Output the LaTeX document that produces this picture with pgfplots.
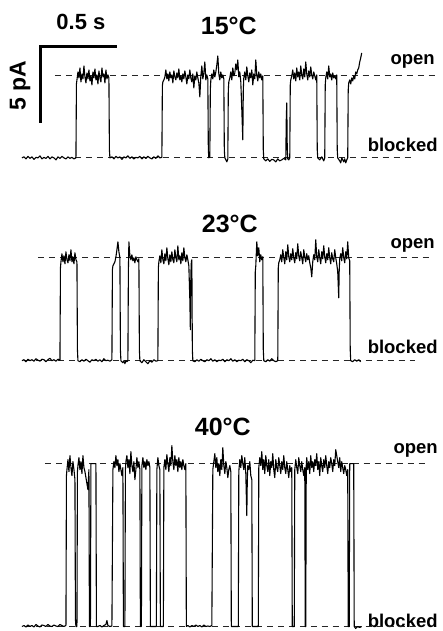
\documentclass[border=0pt]{standalone}
\usepackage{pgfplots}
\pgfplotsset{compat=1.18}
\usepackage{fontspec}
\setmainfont{Liberation Sans}
\newcommand{\fs}[1]{\fontsize{#1}{#1}\selectfont\bfseries}
\begin{document}
\begin{tikzpicture}
\begin{axis}[
    scale only axis, width=443pt, height=631pt,
    xmin=0, xmax=443, ymin=0, ymax=631, y dir=reverse,
    hide axis, clip=false, enlargelimits=false,
    trace/.style={black, line width=1.1pt, line join=round, mark=none},
    level/.style={black!85, line width=1pt, dash pattern=on 6pt off 5pt, mark=none},
]
\path (axis cs:0,0) rectangle (axis cs:443,631);

% scale bar
\addplot[black, line width=3pt, miter limit=2, mark=none] coordinates {(117,47) (41,47) (41,123)};
\node[anchor=base, font=\fs{22}] at (axis cs:81,30) {0.5 s};
\node[rotate=90, font=\fs{23}] at (axis cs:20,86) {5 pA};

% ---------------- 15 C ----------------
\node[anchor=base, font=\fs{25}] at (axis cs:229,35) {15°C};
\node[anchor=base, font=\fs{18.5}] at (axis cs:413,65) {open};
\node[anchor=base, font=\fs{18.5}] at (axis cs:403,152) {blocked};
\addplot[level] coordinates {(55,76) (435,76)};
\addplot[level] coordinates {(75,158) (415,158)};
\addplot[trace] coordinates {
(22,158)(24,157)(26,159)(28,156.5)(30,158.5)(32,157)(34,159.5)(36,157.5)(38,158)(40,156)(42,159)(44,157.5)(46,158.5)(48,156.5)(50,159)(52,157)(54,158)(56,160)(58,157)(60,158.5)(62,156.5)(64,158)(66,159)(68,157)(70,158.5)(72,157.5)(74,159)(76,158)
(76.5,84)(77,80)
(78,72)(79,78)(80,68)(81,82)(82,74)(83,79)(84,66)(85,77)(86,83)(87,73)(88,79)(89,70)(90,81)(91,76)(92,85)(93,72)(94,78)(95,69)(96,80)(97,75)(98,84)(99,71)(100,78)(101,82)(102,68)(103,77)(104,74)(105,83)(106,70)(107,79)(108,75)(109,78)
(109.5,150)(110,158)
(112,157)(114,159)(116,156.5)(118,158)(120,157)(122,159.5)(124,157)(126,158)(128,156)(130,158.5)(132,157)(134,159)(136,157.5)(138,158)(140,156.5)(142,159)(144,157)(146,158.5)(148,156.5)(150,158)(152,159)(154,157)(156,158.5)(158,156)(160,158)(162,157.5)
(162.5,86)(163,82)
(164,80)(165,77)(166,70)(167,79)(168,74)(169,81)(170,72)(171,78)(172,75)(173,83)(174,71)(175,77)(176,80)(177,73)(178,78)(179,69)(180,80)(181,76)(182,82)(183,74)(184,79)(185,71)(186,77)(187,84)(188,75)(189,79)(190,70)(191,78)(192,82)(193,74)(194,88)(195,76)(196,80)(197,72)(198,78)(199,83)(200,97)(201,76)(202,66)(203,79)(204,73)(205,62)(206,80)(207,75)(208,79)
(208.5,150)(209,158)(210,157)(210.5,90)(211,80)
(212,74)(213,79)(214,70)(215,77)(216,72)(217,65)(218,56)(219,74)(220,80)(221,72)(222,78)(223,75)(224,79)
(224.5,150)(225,158)(226,160)(227,162)(228,159)(228.5,90)(229,82)
(230,78)(231,72)(232,80)(233,68)(234,76)(235,73)(236,64)(237,70)(238,60)(239,77)(240,72)(241,82)(242,110)(243,140)(243.5,90)(244,78)(245,72)(246,80)(247,67)(248,76)(249,82)(250,73)(251,78)(252,70)(253,85)(254,74)(255,79)(256,60)(257,75)(258,81)(259,72)(260,78)(261,74)(262,80)(263,76)
(263.5,150)(264,159)
(266,161)(268,159)(270,161.5)(272,159.5)(274,160)(276,162)(278,159)(280,161)(282,160)(284,158.5)(286,160)(286.5,120)(287,103)(287.5,150)(288,159)(289,160)(290,158)
(290.5,85)(291,80)
(292,76)(293,70)(294,79)(295,73)(296,81)(297,68)(298,77)(299,72)(300,80)(301,66)(302,75)(303,79)(304,69)(305,77)(306,62)(307,74)(308,80)(309,71)(310,77)(311,67)(312,75)(313,79)(314,72)(315,76)(316,80)(317,75)
(317.5,150)(318,158)(320,160)(322,157)(324,161)(325,158)
(325.5,85)(326,78)
(327,72)(328,79)(329,66)(330,77)(331,74)(332,80)(333,73)(334,78)(335,76)(336,79)(337,75)
(337.5,150)(338,158)(340,161)(341,163)(342,158)(344,162)(345,159)(346,163)(347,160)(348,158)
(348.5,90)(349,83)(350,80)(351,84)(352,78)(353,81)(354,76)(355,79)(356,72)(357,74)(358,70)(359,68)(360,62)(361,58)(362,53)
};

% ---------------- 23 C ----------------
\node[anchor=base, font=\fs{25}] at (axis cs:230,233) {23°C};
\node[anchor=base, font=\fs{18.5}] at (axis cs:413,249) {open};
\node[anchor=base, font=\fs{18.5}] at (axis cs:403,354) {blocked};
\addplot[level] coordinates {(38,258) (430,258)};
\addplot[level] coordinates {(25,361) (415,361)};
\addplot[trace] coordinates {
(22,361)(24,360)(26,362)(28,359.5)(30,361)(32,360)(34,361.5)(36,359)(38,360.5)(40,361.5)(42,359.5)(44,360)(46,362)(48,360)(50,358.5)(52,361)(54,360)(56,361.5)(58,359.5)(60,360.5)
(60.5,268)(61,262)
(62,254)(63,262)(64,256)(65,264)(66,252)(67,260)(68,263)(69,255)(70,261)(71,250)(72,262)(73,257)(74,264)(75,253)(76,260)(77,262)
(77.5,350)(78,361)
(80,362)(82,360)(84,361.5)(86,359.5)(88,361)(90,362.5)(92,360)(94,361)(96,359.5)(98,361.5)(100,360)(102,362)(104,359)(106,361)(108,360.5)(110,361.5)(112,360)
(112.5,270)(113,266)(114,264)(115,262)(116,257)(117,250)(118,242)(119,252)(120,258)(120.5,350)(121,361)
(122,362)(123,363)(124,361)(125,364)(126,361)(127,362)(128,361)(128.5,270)(129,242)(130,256)(131,260)(132,255)(133,261)(134,258)(135,263)(136,257)(137,260)(138,262)(139,259)(139.5,350)(140,361)
(142,363)(144,360)(146,362)(148,364)(150,361)(152,362.5)(154,360)(156,361.5)(158,361)
(158.5,268)(159,262)
(160,256)(161,263)(162,250)(163,260)(164,264)(165,254)(166,261)(167,248)(168,259)(169,265)(170,255)(171,262)(172,252)(173,260)(174,263)(175,250)(176,258)(177,262)(178,246)(179,260)(180,256)(181,264)(182,253)(183,261)(184,248)(185,258)(186,262)(187,255)(188,260)(189,266)(190,300)(190.5,330)(191,275)(191.5,262)(192,260)
(192.5,350)(193,361)
(195,362)(197,360)(199,361.5)(201,359.5)(203,361)(205,362)(207,360)(209,361)(211,359)(213,361.5)(215,360)(217,362)(219,360.5)(221,361)(223,359.5)(225,362)(227,360)(229,361)(231,359)(233,361.5)(235,360)(237,362)(239,360.5)(241,361)(243,359.5)(245,362)(247,360)(249,361)(251,363)(253,360.5)(255,361)
(255.5,272)(256,266)(257,242)(258,256)(259,248)(260,262)(261,255)(262,260)(263,257)
(263.5,350)(264,361)
(266,362)(268,360)(270,361.5)(272,359)(274,361)(276,362)(278,361)
(278.5,268)(279,263)
(280,260)(281,255)(282,262)(283,250)(284,258)(285,264)(286,252)(287,260)(288,245)(289,257)(290,262)(291,254)(292,260)(293,249)(294,258)(295,263)(296,253)(297,259)(298,244)(299,256)(300,261)(301,252)(302,258)(303,264)(304,250)(305,257)(306,262)(307,254)(308,260)(309,256)(310,263)(311,268)(312,277)(313,262)(314,255)(315,260)(316,240)(317,257)(318,262)(319,250)(320,258)(321,264)(322,252)(323,259)(324,246)(325,257)(326,263)(327,254)(328,260)(329,248)(330,258)(331,264)(332,253)(333,259)(334,262)(335,250)(336,258)(337,264)(338,272)(339,298)(339.5,270)(340,259)(341,254)(342,261)(343,248)(344,258)(345,263)(346,252)(347,259)(348,242)(349,258)(350,261)
(350.5,350)(351,361)(353,362)(355,360)(357,361.5)(359,360)(361,362)
};

% ---------------- 40 C ----------------
\node[anchor=base, font=\fs{25}] at (axis cs:223,436) {40°C};
\node[anchor=base, font=\fs{18.5}] at (axis cs:416,454) {open};
\node[anchor=base, font=\fs{18.5}] at (axis cs:403,628) {blocked};
\addplot[level] coordinates {(45,464) (427,464)};
\addplot[level] coordinates {(25,627) (415,627)};
\addplot[trace] coordinates {
(22,627)(24,626)(26,627.5)(28,625.5)(30,627)(32,626)(34,627.5)(36,625)(38,626.5)(40,627.5)(42,625.5)(44,626)(46,627)(48,625)(50,626.5)(52,627)(54,625.5)(56,626.5)(58,627)(60,625)(62,626)(64,627)(66,626)
(66.5,476)(67,470)
(68,460)(69,472)(70,456)(71,468)(72,476)(73,462)(74,470)(75,480)
(75.5,620)(76,627)(77,627)
(77.5,472)(78,466)(79,458)(80,470)(81,462)(82,474)(83,456)(84,468)(85,472)(86,478)(87,484)(88,490)(89,470)
(89.5,627)(90.5,627)(91,464)(96,464)(96.5,627)
(98,627)(100,626)(102,627.5)(104,626)(106,625)(107,621)(108,626)(110,627)(112,626.5)
(113,470)(114,462)(115,468)(116,456)(117,466)(118,460)(119,472)(120,464)(121,470)(122,476)(123,468)
(123.5,627)(125,627)(125.5,470)(126,462)(127,456)(128,468)(129,460)(130,474)(131,452)(132,466)(133,472)(134,462)(135,480)(136,470)(137,458)(138,468)(139,462)(140,470)
(140.5,627)(141.5,627)(142,466)(143,458)(144,468)(145,462)(146,470)(147,460)(148,466)(149,462)(150,468)
(150.5,627)(156.5,627)(157,470)(158,458)(159,466)(160,470)
(160.5,627)(163.5,627)(164,468)(165,460)(166,470)(167,455)(168,464)(169,472)(170,458)(171,466)(172,446)(173,462)(174,470)(175,456)(176,466)(177,460)(178,472)(179,458)(180,468)(181,462)(182,470)(183,460)(184,466)(185,470)(186,464)
(186.5,627)
(188,626)(190,627.5)(192,626)(194,627)(196,625.5)(198,627)(200,626)(202,627.5)(204,625.5)(206,627)(208,626.5)(210,627)(212,626)
(213,470)(214,462)(215,454)(216,468)(217,458)(218,472)(219,464)(220,476)(221,460)(222,470)(223,448)(224,466)(225,474)(226,462)(227,468)(228,478)(229,470)(230,466)(231,472)
(231.5,627)(238.5,627)
(239,472)(240,460)(241,468)(242,456)(243,464)(244,470)(245,458)(246,474)(247,516)(247.5,480)(248,466)(249,470)(250,462)(251,476)(252,480)
(252.5,627)(258.5,627)
(259,468)(260,458)(261,466)(262,452)(263,470)(264,460)(265,474)(266,456)(267,466)(268,472)(269,460)(270,476)(271,462)(272,468)(273,454)(274,470)(275,478)(276,460)(277,468)(278,472)(279,458)(280,466)(281,474)(282,462)(283,470)(284,456)(285,468)(286,474)(287,462)(288,470)(289,478)(290,466)(291,472)(292,468)
(292.5,627)(294.5,627)
(295,470)(296,460)(297,468)(298,474)(299,458)(300,466)(301,472)(302,462)(303,470)(304,476)(305,468)
(305.5,627)(306,627)
(306.5,466)(307,458)(308,470)(309,462)(310,474)(311,456)(312,468)(313,462)(314,472)(315,460)(316,466)(317,454)(318,470)(319,462)(320,476)(321,458)(322,466)(323,472)(324,460)(325,468)(326,456)(327,466)(328,474)(329,462)(330,468)(331,458)(332,464)(333,472)(334,460)(335,466)(336,450)(337,456)(338,462)(339,468)(340,458)(341,472)(342,462)(343,468)(344,474)(345,466)(346,470)(347,476)(348,470)
(348.5,627)(349.5,627)(350,464)(354,464)(354.5,627)(356,629)(358,627)(360,628)(362,627)
};
\end{axis}
\end{tikzpicture}
\end{document}
